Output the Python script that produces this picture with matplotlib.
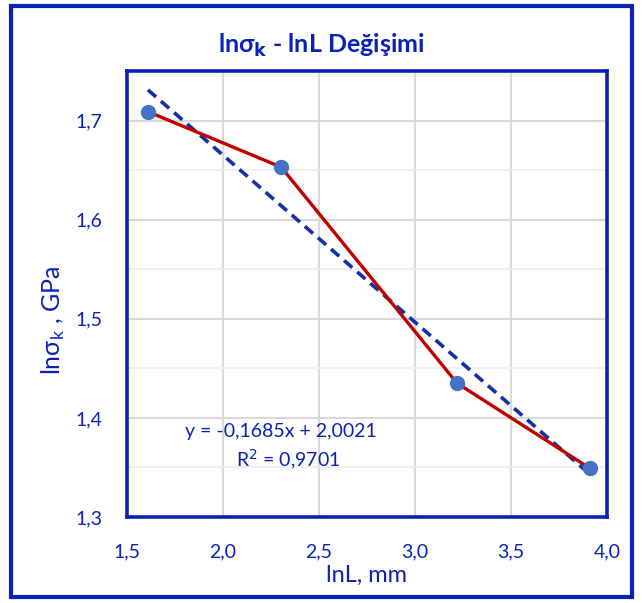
import matplotlib
matplotlib.use("Agg")
import matplotlib.pyplot as plt
from matplotlib.patches import Rectangle
from matplotlib.ticker import FixedLocator, FuncFormatter
import numpy as np

# Data
lnL = [1.609, 2.303, 3.219, 3.912]
ln_sigma = [1.709, 1.653, 1.435, 1.349]
slope = -0.1685
intercept = 2.0021
r2 = 0.9701
x_ticks = [1.5, 2.0, 2.5, 3.0, 3.5, 4.0]
y_ticks = [1.3, 1.4, 1.5, 1.6, 1.7]

BLUE = "#0A22B4"
plt.rcParams['font.family'] = ['Lato', 'DejaVu Sans']

fig = plt.figure(figsize=(6.42, 6.03), dpi=100)
ax = fig.add_axes([127/642, 1-517/603, (607-127)/642, (517-71)/603])

# grid
ax.set_xlim(1.5, 4.0)
ax.set_ylim(1.3, 1.75)
ax.xaxis.set_major_locator(FixedLocator(x_ticks))
ax.yaxis.set_major_locator(FixedLocator(y_ticks))
ax.yaxis.set_minor_locator(FixedLocator([1.35, 1.45, 1.55, 1.65]))
ax.grid(True, which='major', color='#D9D9D9', lw=1.5)
ax.grid(True, which='minor', axis='y', color='#EFEFEF', lw=1.2)
ax.set_axisbelow(True)

fmt = FuncFormatter(lambda v, p: f"{v:.1f}".replace('.', ','))
ax.xaxis.set_major_formatter(fmt)
ax.yaxis.set_major_formatter(fmt)
ax.tick_params(axis='both', which='both', length=0, labelsize=14, labelcolor=BLUE)
ax.tick_params(axis='x', pad=19)
ax.tick_params(axis='y', pad=18)

for s in ax.spines.values():
    s.set_color(BLUE)
    s.set_linewidth(2.6)

# trendline
xt = np.array([lnL[0], lnL[-1]])
ax.plot(xt, slope * xt + intercept, ls=(0, (3, 1.8)), color='#1430A8', lw=2.6, zorder=3)
# data line
ax.plot(lnL, ln_sigma, color='#C00000', lw=2.4, zorder=4)
ax.plot(lnL, ln_sigma, 'o', color='#4472C4', ms=10, zorder=5)

ax.text(2.3, 1.386, f"y = {slope:.4f}x + {intercept:.4f}".replace('.', ','),
        color=BLUE, fontsize=14, ha='center', va='center')
ax.text(2.34, 1.358, f"R$^2$ = {r2:.4f}".replace('.', ','),
        color=BLUE, fontsize=14, ha='center', va='center')

ax.set_xlabel("lnL, mm", color=BLUE, fontsize=17, labelpad=3)
ax.set_ylabel("lnσ$_\\mathregular{k}$ , GPa", color=BLUE, fontsize=18)
ax.yaxis.set_label_coords(-0.125, 0.44)

fig.text(0.5, 1-45/603, "lnσ$_\\mathbf{k}$ - lnL Değişimi", color=BLUE, fontsize=18,
         fontweight='bold', ha='center', va='center')

fig.patches.append(Rectangle((11/642, 1-597/603), (632-11)/642, (597-6)/603,
                             transform=fig.transFigure, fill=False,
                             edgecolor=BLUE, lw=3))

fig.savefig("out.png", dpi=100)
